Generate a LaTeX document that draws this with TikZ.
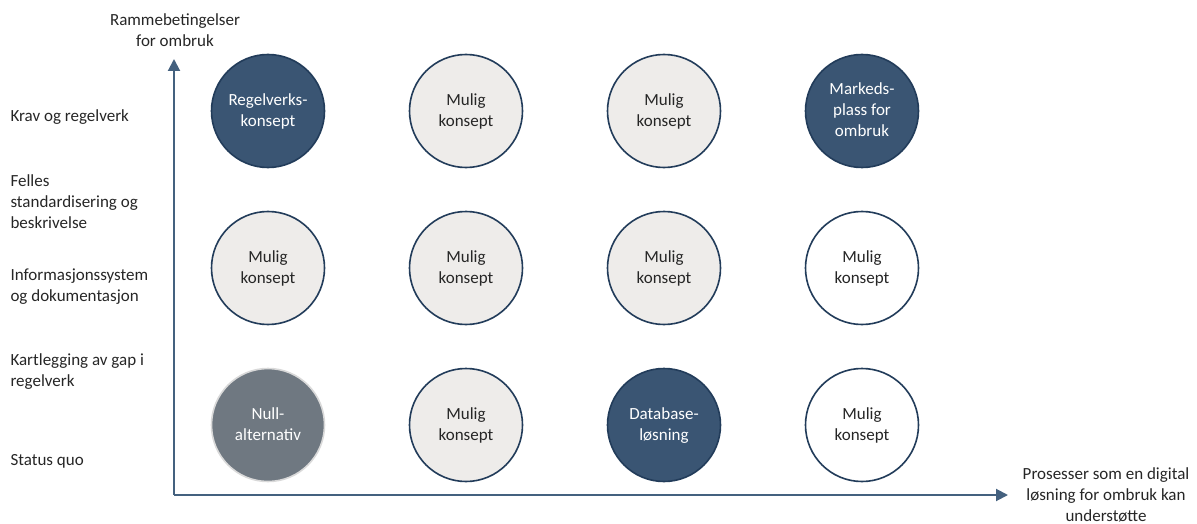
\documentclass[tikz,border=0pt]{standalone}
\usepackage{fontspec}
\setmainfont{Carlito}
\usetikzlibrary{arrows.meta}
\definecolor{axisblue}{HTML}{44617F}
\definecolor{darkfill}{HTML}{3A5573}
\definecolor{ringblue}{HTML}{223C5A}
\definecolor{lightfill}{HTML}{EEECEA}
\definecolor{nullgrey}{HTML}{6F7881}
\definecolor{textgrey}{HTML}{262626}
\begin{document}
\begin{tikzpicture}[x=1pt,y=-1pt,
		every node/.style={font=\fontsize{17}{21}\selectfont, text=textgrey},
		konsept/.style={circle, minimum size=113pt, inner sep=0pt, align=center, line width=1.6pt, draw=ringblue, text depth=2pt},
		valgt/.style={konsept, fill=darkfill, text=white},
		mulig/.style={konsept, fill=lightfill},
		aapen/.style={konsept, fill=white},
		nullalt/.style={konsept, fill=nullgrey, draw=black!15, text=white},
		aksetekst/.style={align=left, anchor=west},
		akse/.style={axisblue, line width=2pt, -{Triangle[length=12pt,width=12pt]}}]
			\useasboundingbox (0,0) rectangle (1197,524);
			% aksene
			\coordinate (origo) at (174,495);
			\coordinate (ytopp) at (174,59);
			\coordinate (xende) at (1008,495);
			\draw [akse] (origo) -- (ytopp);
			\draw [akse] (origo) -- (xende);
			\node [align=center] (ytittel) at (175,30) {Rammebetingelser\\for ombruk};
			\node [align=center] (xtittel) at (1106,495) {Prosesser som en digital\\løsning for ombruk kan\\understøtte};
			% nivaa paa y-aksen
			\node [aksetekst] (krav) at (7,117) {Krav og regelverk};
			\node [aksetekst] (felles) at (7,202) {Felles\\standardisering og\\beskrivelse};
			\node [aksetekst] (info) at (7,287) {Informasjonssystem\\og dokumentasjon};
			\node [aksetekst] (gap) at (7,372) {Kartlegging av gap i\\regelverk};
			\node [aksetekst] (status) at (7,461) {Status quo};
			% konseptene
			\node [valgt] (regelverk) at (268,111) {Regelverks-\\konsept};
			\node [mulig] (k12) at (466,111) {Mulig\\konsept};
			\node [mulig] (k13) at (664,111) {Mulig\\konsept};
			\node [valgt] (markedsplass) at (862,111) {Markeds-\\plass for\\ombruk};
			\node [mulig] (k21) at (268,268) {Mulig\\konsept};
			\node [mulig] (k22) at (466,268) {Mulig\\konsept};
			\node [mulig] (k23) at (664,268) {Mulig\\konsept};
			\node [aapen] (k24) at (862,268) {Mulig\\konsept};
			\node [nullalt] (null) at (268,425) {Null-\\alternativ};
			\node [mulig] (k32) at (466,425) {Mulig\\konsept};
			\node [valgt] (database) at (664,425) {Database-\\løsning};
			\node [aapen] (k34) at (862,425) {Mulig\\konsept};
		\end{tikzpicture}
\end{document}
